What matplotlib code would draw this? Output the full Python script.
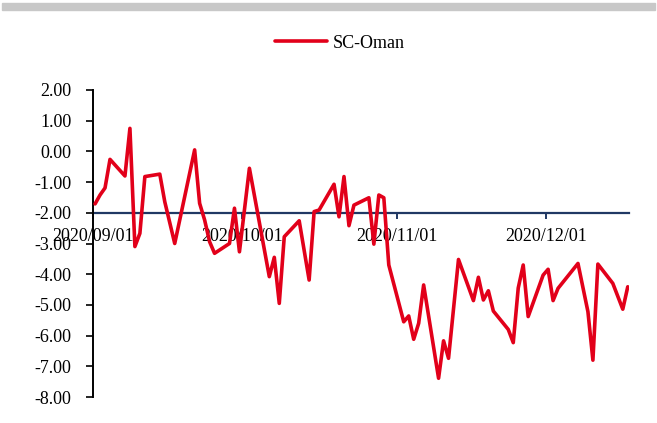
import pandas as pd
import matplotlib
matplotlib.use('Agg')
import matplotlib.pyplot as plt
import matplotlib.dates as mdates
from matplotlib.patches import Rectangle
from matplotlib.ticker import FormatStrFormatter

plt.rcParams['font.family'] = ['Liberation Serif', 'DejaVu Serif']
plt.rcParams['axes.unicode_minus'] = False

# SC-Oman spread
dates = ['2020-09-01', '2020-09-02', '2020-09-03', '2020-09-04', '2020-09-07',
         '2020-09-08', '2020-09-09', '2020-09-10', '2020-09-11', '2020-09-14',
         '2020-09-15', '2020-09-17', '2020-09-21', '2020-09-22', '2020-09-23',
         '2020-09-24', '2020-09-25', '2020-09-28', '2020-09-29', '2020-09-30',
         '2020-10-02', '2020-10-06', '2020-10-07', '2020-10-08', '2020-10-09',
         '2020-10-12', '2020-10-14', '2020-10-15', '2020-10-16', '2020-10-19',
         '2020-10-20', '2020-10-21', '2020-10-22', '2020-10-23', '2020-10-26',
         '2020-10-27', '2020-10-28', '2020-10-29', '2020-10-30', '2020-11-02',
         '2020-11-03', '2020-11-04', '2020-11-05', '2020-11-06', '2020-11-09',
         '2020-11-10', '2020-11-11', '2020-11-13', '2020-11-16', '2020-11-17',
         '2020-11-18', '2020-11-19', '2020-11-20', '2020-11-23', '2020-11-24',
         '2020-11-25', '2020-11-26', '2020-11-27', '2020-11-30', '2020-12-01',
         '2020-12-02', '2020-12-03', '2020-12-07', '2020-12-09', '2020-12-10',
         '2020-12-11', '2020-12-14', '2020-12-16', '2020-12-17']
sc_oman = [-1.71, -1.42, -1.19, -0.26, -0.80,
           0.75, -3.10, -2.67, -0.82, -0.74,
           -1.64, -3.00, 0.05, -1.69, -2.23,
           -2.94, -3.32, -3.00, -1.85, -3.27,
           -0.55, -4.08, -3.45, -4.95, -2.78,
           -2.26, -4.19, -1.96, -1.91, -1.07,
           -2.13, -0.82, -2.42, -1.75, -1.51,
           -3.02, -1.42, -1.51, -3.70, -5.55,
           -5.36, -6.12, -5.60, -4.35, -7.39,
           -6.17, -6.74, -3.52, -4.86, -4.10,
           -4.84, -4.54, -5.20, -5.80, -6.23,
           -4.45, -3.70, -5.38, -4.03, -3.84,
           -4.86, -4.46, -3.65, -5.22, -6.80,
           -3.67, -4.30, -5.14, -4.41]
month_ticks = ['2020-09-01', '2020-10-01', '2020-11-01', '2020-12-01']

# points sit a little after midnight of their date in the original
x = pd.to_datetime(dates) + pd.Timedelta(hours=10)
navy = '#203864'

fig = plt.figure(figsize=(6.57, 4.23), dpi=100)
fig.patches.append(Rectangle((2 / 657, 1 - 10 / 423), 653 / 657, 7 / 423,
                             transform=fig.transFigure, color='#c8c8c8',
                             zorder=0))
ax = fig.add_axes([93 / 657, 1 - 397 / 423, 536 / 657, 307 / 423])

ax.plot(x, sc_oman, color='#e2001a', lw=2.6, label='SC-Oman',
        solid_joinstyle='round', solid_capstyle='round', zorder=3)

ax.set_ylim(-8, 2)
ax.set_yticks(range(-8, 3))
ax.yaxis.set_major_formatter(FormatStrFormatter('%.2f'))
ax.set_xlim(pd.Timestamp('2020-09-01'), pd.Timestamp('2020-12-17 16:00'))
ax.set_xticks(pd.to_datetime(month_ticks))
ax.xaxis.set_major_formatter(mdates.DateFormatter('%Y/%m/%d'))

for side in ['top', 'right']:
    ax.spines[side].set_visible(False)
ax.spines['left'].set_linewidth(1.4)
ax.spines['left'].set_color('black')
ax.spines['bottom'].set_position(('data', -2))
ax.spines['bottom'].set_color(navy)
ax.spines['bottom'].set_linewidth(1.6)
ax.spines['bottom'].set_zorder(2)

ax.tick_params(axis='y', direction='out', length=5, width=1.2,
               labelsize=13, pad=10.5, colors='black')
ax.tick_params(axis='x', direction='out', length=4, width=1.4,
               color=navy, labelsize=13, labelcolor='black', pad=7)

fig.legend(loc='center', bbox_to_anchor=(0.5175, 1 - 43 / 423),
           frameon=False, fontsize=13, handlelength=2.9, handletextpad=0.3)

fig.savefig('out.png', dpi=100)
